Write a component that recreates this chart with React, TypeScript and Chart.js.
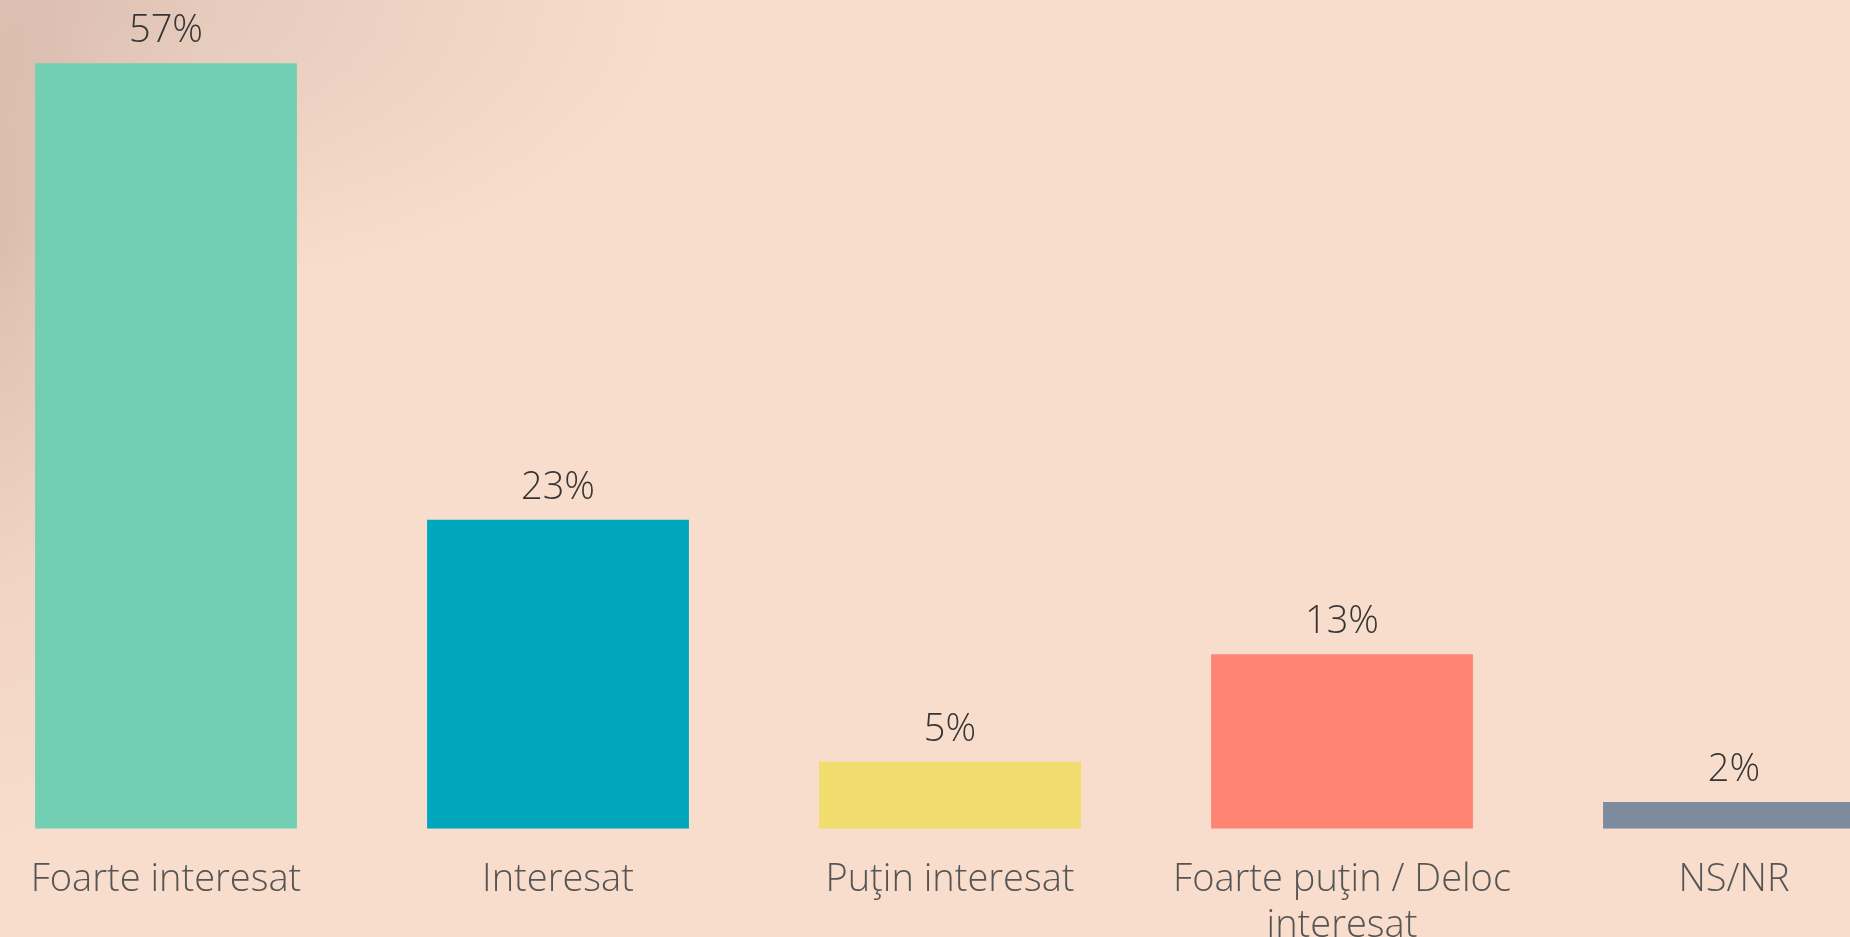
import React, { useEffect, useRef } from "react";
import { Chart, registerables } from "chart.js";

Chart.register(...registerables);

const categories: string[][] = [
  ["Foarte interesat"],
  ["Interesat"],
  ["Puţin interesat"],
  ["Foarte puţin / Deloc", "interesat"],
  ["NS/NR"],
];
const values: number[] = [57, 23, 5, 13, 2];
const valueLabels: string[] = ["57%", "23%", "5%", "13%", "2%"];
const barColors: string[] = ["#72CFB3", "#00A6BB", "#F1DD6E", "#FF8474", "#7E8A9E"];

const FONT_FAMILY = "'Open Sans', 'Noto Sans', sans-serif";

const valueLabelPlugin = {
  id: "valueLabelPlugin",
  afterDatasetsDraw(chart: any) {
    const ctx = chart.ctx;
    const meta = chart.getDatasetMeta(0);
    ctx.save();
    ctx.font = `300 38px ${FONT_FAMILY}`;
    ctx.fillStyle = "#353535";
    ctx.textAlign = "center";
    ctx.textBaseline = "alphabetic";
    meta.data.forEach((el: any, i: number) => {
      ctx.fillText(valueLabels[i], el.x, el.y - 21);
    });
    ctx.restore();
  },
};

export default function App() {
  const canvasRef = useRef<HTMLCanvasElement | null>(null);

  useEffect(() => {
    if (!canvasRef.current) return;
    const chart = new Chart(canvasRef.current, {
      type: "bar",
      data: {
        labels: categories,
        datasets: [
          {
            data: values,
            backgroundColor: barColors,
            borderWidth: 0,
            categoryPercentage: 1,
            barPercentage: 0.668,
          },
        ],
      },
      options: {
        animation: false,
        responsive: true,
        maintainAspectRatio: false,
        layout: { padding: { top: 0, bottom: 12, left: 0, right: 0 } },
        plugins: {
          legend: { display: false },
          tooltip: { enabled: false },
          title: { display: false },
        },
        scales: {
          x: {
            grid: { display: false, drawTicks: false },
            border: { display: false },
            ticks: {
              padding: 29,
              color: "#555555",
              font: { family: FONT_FAMILY, size: 38, weight: "300", lineHeight: 1.2 },
              maxRotation: 0,
              autoSkip: false,
            },
          },
          y: {
            display: false,
            min: 0,
            max: 61.7,
          },
        },
      },
      plugins: [valueLabelPlugin],
    });
    return () => chart.destroy();
  }, []);

  return (
    <div
      style={{
        position: "fixed",
        left: 0,
        top: 0,
        width: 1850,
        height: 937,
        overflow: "hidden",
        background:
          "radial-gradient(ellipse 220px 600px at 0px 250px, rgba(185,145,130,0.4), rgba(210,170,155,0.18) 55%, rgba(248,221,204,0) 100%), radial-gradient(ellipse 600px 300px at 80px 0px, rgba(190,165,155,0.4), rgba(248,221,204,0) 100%), #F8DDCC",
      }}
    >
      <div style={{ position: "absolute", left: -30, top: 0, width: 1960, height: 990 }}>
        <canvas ref={canvasRef} />
      </div>
    </div>
  );
}
